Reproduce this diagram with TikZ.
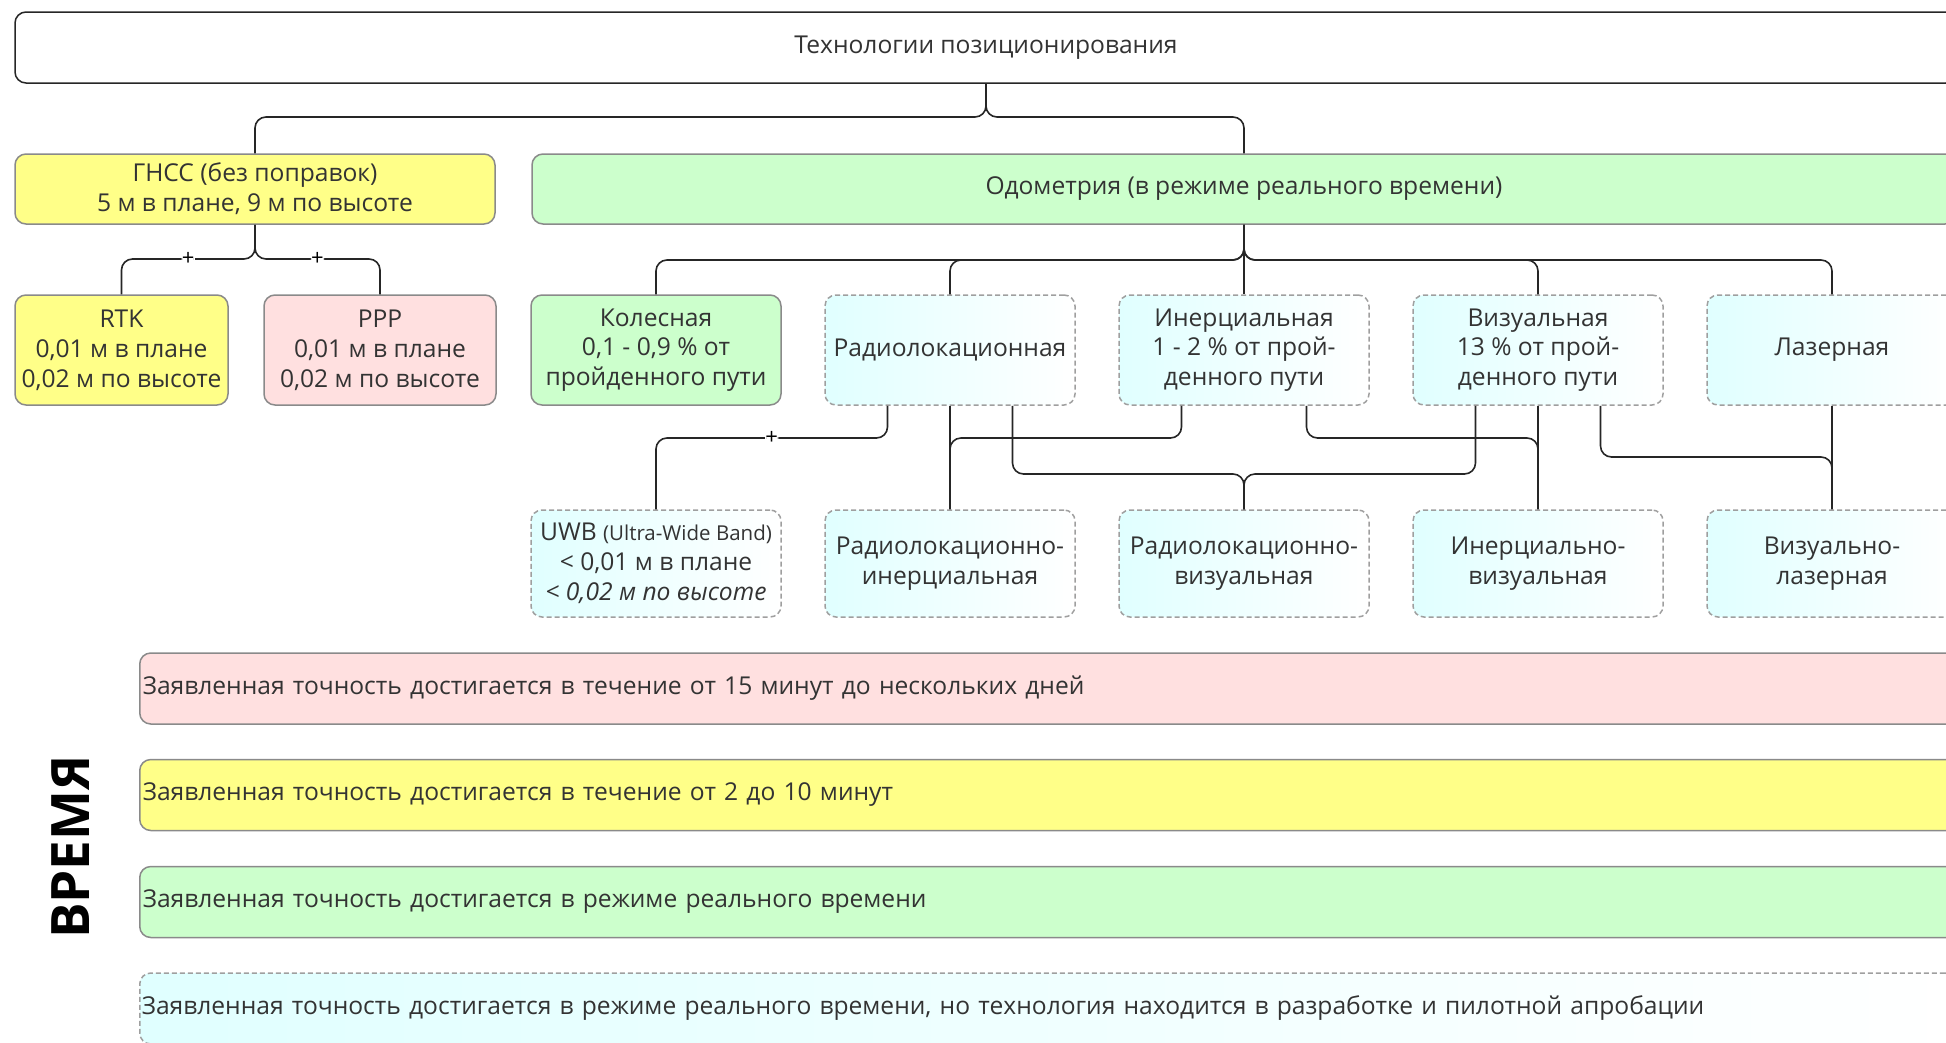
\documentclass[tikz,border=0pt]{standalone}
\usepackage{fontspec}
\setmainfont{Open Sans}
\usetikzlibrary{positioning}
\definecolor{gnssyellow}{HTML}{FFFF88}
\definecolor{ppppink}{HTML}{FFE0E0}
\definecolor{odogreen}{HTML}{CCFFCC}
\definecolor{devcyan}{HTML}{E0FFFF}
\definecolor{boxline}{HTML}{8A8A8A}
\definecolor{txtgray}{HTML}{333333}

\begin{document}
\begin{tikzpicture}[x=1pt, y=-1pt,
		box/.style={draw=boxline, line width=1.5pt, rectangle, rounded corners=11pt, align=center, inner sep=2pt, text=txtgray, font=\fontsize{24.6}{29.8}\selectfont},
		dbox/.style={box, draw=gray!75, dash pattern=on 5pt off 3pt, left color=devcyan, right color=white},
		cell/.style={box, minimum width=250pt, minimum height=110pt},
		bar/.style={box, anchor=west, minimum height=71pt, text width=1812pt, inner xsep=3pt, align=left},
		link/.style={draw=black!85, line width=1.6pt, rounded corners=11pt},
		plusmark/.style={fill=white, inner sep=0.3pt, text=black, font=\fontsize{22}{22}\selectfont},
	]
		\useasboundingbox (0,0) rectangle (1946,1042);
		\clip (0,0) rectangle (1946,1042);

		% levels of the buses
		\coordinate (lvlT) at (0,117);
		\coordinate (lvlG) at (0,259);
		\coordinate (lvlO) at (0,260);
		\coordinate (lvlA) at (0,438);
		\coordinate (lvlB) at (0,474);
		\coordinate (lvlC) at (0,457);

		\node[box, fill=white, draw=black!85, minimum width=1942pt, minimum height=71pt] (tech) at (986,47.5) {Технологии позиционирования};

		\node[box, fill=gnssyellow, minimum width=480pt, minimum height=70pt] (gnss) at (255,189) {ГНСС (без поправок)\\5 м в плане, 9 м по высоте};
		\node[box, fill=odogreen, minimum width=1424pt, minimum height=70pt] (odo) at (1244,189) {Одометрия (в режиме реального времени)};

		\node[cell, fill=gnssyellow, minimum width=213pt] (rtk) at (121.5,350) {RTK\\0,01 м в плане\\0,02 м по высоте};
		\node[cell, fill=ppppink, minimum width=232pt] (ppp) at (380,350) {PPP\\0,01 м в плане\\0,02 м по высоте};

		\node[cell, fill=odogreen] (kol) at (656,350) {Колесная\\0,1 - 0,9 \% от\\пройденного пути};
		\node[cell, dbox] (radio) at (950,350) {Радиолокационная};
		\node[cell, dbox] (inert) at (1244,350) {Инерциальная\\1 - 2 \% от прой-\\денного пути};
		\node[cell, dbox] (vis) at (1538,350) {Визуальная\\13 \% от прой-\\денного пути};
		\node[cell, dbox] (laser) at (1832,350) {Лазерная};

		\node[cell, dbox, minimum height=107pt] (uwb) at (656,563.5) {UWB {\fontsize{20.5}{24}\selectfont(Ultra-Wide Band)}\\< 0,01 м в плане\\\textit{< 0,02 м по высоте}};
		\node[cell, dbox, minimum height=107pt] (radin) at (950,563.5) {Радиолокационно-\\инерциальная};
		\node[cell, dbox, minimum height=107pt] (radvis) at (1244,563.5) {Радиолокационно-\\визуальная};
		\node[cell, dbox, minimum height=107pt] (invis) at (1538,563.5) {Инерциально-\\визуальная};
		\node[cell, dbox, minimum height=107pt] (vislas) at (1832,563.5) {Визуально-\\лазерная};

		\node[bar, fill=ppppink] (acc1) at (139,688.5) {Заявленная точность достигается в течение от 15 минут до нескольких дней};
		\node[bar, fill=gnssyellow] (acc2) at (139,795) {Заявленная точность достигается в течение от 2 до 10 минут};
		\node[bar, fill=odogreen] (acc3) at (139,902) {Заявленная точность достигается в режиме реального времени};
		\node[bar, dbox, anchor=west, align=left] (acc4) at (139,1008.5) {Заявленная точность достигается в режиме реального времени, но технология находится в разработке и пилотной апробации};

		\node[rotate=90, font=\fontsize{53}{53}\selectfont\bfseries] (time) at (71,847) {ВРЕМЯ};

		% tree
		\draw[link] (tech.south) -- (tech.south |- lvlT) -| (gnss.north);
		\draw[link] (tech.south) -- (tech.south |- lvlT) -| (odo.north);

		\draw[link] (gnss.south) -- (gnss.south |- lvlG) -| node[pos=0.25, plusmark] {+} (rtk.north);
		\draw[link] (gnss.south) -- (gnss.south |- lvlG) -| node[pos=0.25, plusmark] {+} (ppp.north);

		\foreach \leaf in {kol, radio, vis, laser}
			\draw[link] (odo.south) -- (odo.south |- lvlO) -| (\leaf.north);
		\draw[link] (odo.south) -- (inert.north);

		% hybrids
		\draw[link] ([xshift=-62.5pt]radio.south) |- node[pos=0.75, plusmark] {+} (uwb.north |- lvlA) -- (uwb.north);
		\draw[link] (radio.south) -- (radin.north);
		\draw[link] ([xshift=-62.5pt]inert.south) |- (radin.north |- lvlA) -- (radin.north);
		\draw[link] ([xshift=62.5pt]radio.south) |- (radvis.north |- lvlB) -- (radvis.north);
		\draw[link] ([xshift=-62.5pt]vis.south) |- (radvis.north |- lvlB) -- (radvis.north);
		\draw[link] ([xshift=62.5pt]inert.south) |- (invis.north |- lvlA) -- (invis.north);
		\draw[link] (vis.south) -- (invis.north);
		\draw[link] ([xshift=62.5pt]vis.south) |- (vislas.north |- lvlC) -- (vislas.north);
		\draw[link] (laser.south) -- (vislas.north);
	\end{tikzpicture}
\end{document}
